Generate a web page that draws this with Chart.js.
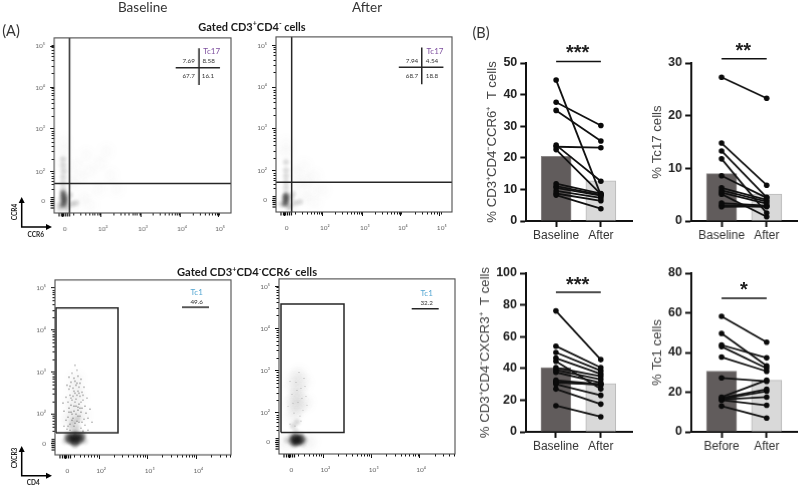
<!DOCTYPE html>
<html><head><meta charset="utf-8">
<style>
html,body{margin:0;padding:0;background:#fff;width:800px;height:488px;overflow:hidden}
#page{position:absolute;left:0;top:0;width:800px;height:488px;filter:blur(.35px)}
canvas{position:absolute}
.t{position:absolute;transform:translate(-50%,-50%);white-space:nowrap;font-family:Lato,sans-serif;color:#333;line-height:1}
sup{font-size:.65em;line-height:0}
svg{position:absolute;left:0;top:0}
</style></head><body><div id="page">
<svg width="800" height="488"><g stroke="#000" stroke-width="1.5" fill="none">
<path d="M21.7 200V227H48"/><path d="M21.7 449V475.7H48"/></g>
<g fill="#000"><path d="M21.7 197l-3 6h6z"/><path d="M52 227l-6-3v6z"/><path d="M21.7 446l-3 6h6z"/><path d="M52 475.7l-6-3v6z"/></g></svg>
<script src="https://cdn.jsdelivr.net/npm/chart.js@4"></script>
<script>
/* ---------- bar panels: values ---------- */
const ccr6Categories=['Baseline','After'];
const ccr6Baseline=[44.6,37.6,35,24,23.5,22.6,11.8,11,10.5,9.5,8.7,8.2];
const ccr6After=[8.2,30.2,25.3,12.6,23.2,8.5,8.7,8.3,8,7.3,6.4,3.9];
const ccr6Bars=[20.5,12.7];
const tc17Categories=['Baseline','After'];
const tc17Baseline=[27.3,14.8,13.3,11.8,8.6,6.3,5.8,5.4,5.1,3.4,3,2.7];
const tc17After=[23.3,6.8,4.5,1.5,4.4,4,3.7,3.3,.8,2.9,2.7,2.8];
const tc17Bars=[9,5.1];
const cxcr3Categories=['Baseline','After'];
const cxcr3Baseline=[76.2,54,50,46.5,44.5,40.5,39,37.5,32.5,31.5,31,30,27,16.5];
const cxcr3After=[45.5,40.5,38.5,36.5,27,35,33,31,30,29.5,30,23,17.5,9.5];
const cxcr3Bars=[40.5,30.3];
const tc1Categories=['Before','After'];
const tc1Baseline=[58.2,49.6,43.8,43,37.7,27.2,17.5,17,16.5,16.3,16,13];
const tc1After=[45.2,33.3,37.3,32,30.5,25.5,26,21.5,20.5,17.5,13.4,7];
const tc1Bars=[30.6,26];

/* ---------- flow plots: values in cytometer channel units ---------- */
const decadeLabels=['0','10²','10³','10⁴','10⁵'];
const zeroCluster=[5,7.5,9.5,11.5,13.5,15.5];
const p1TicksX=[8.7,46.7,86.7,125.7,163.7], p1TicksY=[11.7,41.7,84.7,125.7,167.7];
const p2TicksX=[8.7,47,87,125,164], p2TicksY=[11.7,41.3,84.3,125.3,167.3];
const p3TicksX=[10.4,44,92.7,141.4], p3TicksY=[11.7,41,83.3,125.7,167.7];
const p4TicksX=[10.4,44.4,92.7,140], p4TicksY=[11.7,41.3,84,125.7,168];

const p1Gates=[[[15.4,0],[15.4,176]],[[0,29.7],[176.7,29.7]],[[144.7,128.7],[144.7,165.7]],[[121.4,146],[165.7,146]]];
const p2Gates=[[[15.7,0],[15.7,176]],[[0,30],[176.3,30]],[[146,128.3],[146,165.3]],[[123,145.6],[167.7,145.6]]];
const p3Gates=[[[1,22.3],[63,22.3],[63,147.7],[1,147.7],[1,22.3]],[[127,148.3],[154,148.3]]];
const p4Gates=[[[2,21.7],[65,21.7],[65,150.7],[2,150.7],[2,21.7]],[[132.7,146],[159.7,146]]];

const p1Dark=[[9,8],[10,11],[10,14],[9.5,17],[9,20]];
const p1Mid=[[9,24],[9,30],[9,36],[9.5,42],[9,48],[9,54],[5,8],[14,8],[18,9],[13,14],[22,10],[16,18],[7,14],[12,4],[6,4]];
const p1Faint=[[10,62],[9,72],[18,30],[26,36],[36,42],[46,50],[22,48],[32,58],[52,62],[56,38],[44,24],[30,16],[62,24],[36,8],[20,8],[12,40],[8,50]];
const p2Dark=[[9,8],[10,11],[10,14],[10,17]];
const p2Mid=[[10,24],[10,30],[10,36],[10,42],[10,50],[5,8],[14,7],[19,9],[15,14],[24,10],[17,18],[8,14],[13,4]];
const p2Faint=[[10,60],[10,68],[22,28],[30,32],[38,36],[28,14],[38,10],[46,22],[20,40],[34,22],[16,6],[28,46]];
const p3Dark=[[16,15],[20,16],[24,15],[18,19],[22,19],[14,17],[26,18],[20,13]];
const p3Mid=[[10,14],[30,14],[12,20],[28,20],[20,24],[16,28],[22,28],[20,10],[18,33],[23,36]];
const p3Faint=[[20,44],[17,52],[24,58],[20,66],[14,36],[27,40],[21,76],[18,36]];
const p3Speckle=[[12,26],[15,31],[26,27],[30,30],[9,29],[33,25],[18,37],[13,38],[25,39],[29,36],[21,41],[16,43],[11,35],[31,42],[23,45],[27,47],[14,47],[19,49],[24,51],[9,44],[33,37],[17,55],[21,56],[28,55],[13,53],[25,59],[15,60],[20,62],[30,49],[11,58],[23,64],[18,67],[27,63],[14,66],[32,57],[21,70],[25,72],[16,73],[19,77],[23,79],[12,70],[29,68],[17,82],[22,85],[26,76],[20,90],[35,46],[8,52],[37,33],[24,33],[19,29],[22,34],[15,25],[28,24],[17,41],[26,43],[20,53],[23,48],[18,59],[22,60],[16,50],[24,68],[20,74],[14,78],[28,60],[13,29],[20,32],[27,33],[17,35],[23,39],[14,43],[19,44],[25,47],[21,49],[16,57],[26,53],[19,64],[22,72],[15,69],[24,62]];
const p4Dark=[[14,13],[17,15],[20,14],[18,12],[16,16],[22,15]];
const p4Mid=[[8,14],[26,14],[12,18],[22,19],[17,22],[15,9],[24,10],[14,28],[18,32]];
const p4Faint=[[14,38],[18,46],[16,56],[20,64],[24,72],[14,68],[12,50],[26,52],[20,80],[7,12],[30,12],[18,58],[20,48],[15,76]];
const p4Speckle=[[11,30],[22,33],[15,41],[24,44],[9,48],[19,52],[27,58],[13,60],[22,66],[17,72],[25,76],[11,73],[20,82],[28,49],[16,28],[21,38],[14,51],[23,56],[18,64],[26,68]];

const page=document.getElementById('page');
Chart.defaults.animation=false;
Chart.defaults.devicePixelRatio=1;
function text(html,x,y,size,extra){const d=document.createElement('div');d.className='t';d.innerHTML=html;
  d.style.left=x+'px';d.style.top=y+'px';d.style.fontSize=size+'px';if(extra)Object.assign(d.style,extra);page.appendChild(d);}
function cv(l,t,w,h){const c=document.createElement('canvas');c.width=w;c.height=h;c.style.left=l+'px';c.style.top=t+'px';c.style.width=w+'px';c.style.height=h+'px';page.appendChild(c);return c;}

const blurPlugin={id:'blurLayer',
 beforeDatasetDraw(ch,a){const d=ch.data.datasets[a.index];if(d.blurPx){ch.ctx.save();ch.ctx.filter='blur('+d.blurPx+'px)';}},
 afterDatasetDraw(ch,a){const d=ch.data.datasets[a.index];if(d.blurPx){ch.ctx.restore();}}};
function minorList(major,maxCh){const out=[];const logs=[.301,.477,.602,.699,.778,.845,.903,.954];
  const step=major[2]-major[1];
  for(let m=major[1]-step;m<maxCh;m+=step){logs.forEach(l=>{const v=m+step*l;if(v>major[0]+8&&v<maxCh)out.push(v);});}
  return out;}
const framePlugin={id:'flowFrame',afterDatasetsDraw(ch){const o=ch.options.plugins.flowFrame;if(!o)return;
  const c=ch.ctx,a=ch.chartArea,sx=ch.scales.x,sy=ch.scales.y;c.save();
  c.strokeStyle='#111';c.lineWidth=1;
  const tx=minorList(o.ticksX,sx.max),ty=minorList(o.ticksY,sy.max);
  tx.forEach(v=>{const p=Math.round(sx.getPixelForValue(v))+.5;c.beginPath();c.moveTo(p,a.bottom);c.lineTo(p,a.bottom+2.5);c.stroke();});
  ty.forEach(v=>{const p=Math.round(sy.getPixelForValue(v))+.5;c.beginPath();c.moveTo(a.left,p);c.lineTo(a.left-2.5,p);c.stroke();});
  c.lineWidth=1.2;
  zeroCluster.forEach(v=>{let p=sx.getPixelForValue(v);c.beginPath();c.moveTo(p,a.bottom);c.lineTo(p,a.bottom+3.5);c.stroke();
    p=sy.getPixelForValue(v);c.beginPath();c.moveTo(a.left,p);c.lineTo(a.left-3.5,p);c.stroke();});
  c.strokeStyle='#4d4d4d';c.lineWidth=1.1;c.strokeRect(a.left,a.top,a.right-a.left,a.bottom-a.top);c.restore();}};

function flow(L,T,W,H,ticksX,ticksY,gates,dark,mid,faint,speckle,darkR,faintAlpha,speckleAlpha){
  const pts=a=>a.map(p=>({x:p[0],y:p[1]}));
  const ds=[];
  gates.forEach(g=>ds.push({type:'scatter',showLine:true,data:pts(g),borderColor:'#262626',borderWidth:1.5,pointRadius:0,order:0,clip:false}));
  if(speckle)ds.push({type:'scatter',data:pts(speckle),pointRadius:.6,pointBorderWidth:0,backgroundColor:'rgba(20,20,20,'+speckleAlpha+')',order:1});
  ds.push({type:'scatter',data:pts(dark),pointRadius:darkR,pointBorderWidth:0,backgroundColor:'rgba(15,15,15,.5)',order:2,blurPx:1.5});
  ds.push({type:'scatter',data:pts(mid),pointRadius:3,pointBorderWidth:0,backgroundColor:'rgba(40,40,40,.16)',order:3,blurPx:1.8});
  ds.push({type:'scatter',data:pts(faint),pointRadius:7,pointBorderWidth:0,backgroundColor:'rgba(60,60,60,'+faintAlpha+')',order:4,blurPx:3.5});
  const axis=(arr,isX)=>({type:'linear',min:0,max:isX?W:H,
    afterBuildTicks:s=>{s.ticks=arr.map(v=>({value:v}));},
    afterFit:s=>{if(isX)s.height=28;else s.width=30;},
    grid:{drawOnChartArea:false,drawTicks:true,tickLength:4,tickColor:'#111',tickWidth:1},
    border:{display:false},
    ticks:{autoSkip:false,maxRotation:0,minRotation:0,padding:isX?8:5,labelOffset:isX?2:0,color:'#666',font:{family:'Lato',size:6.5},
      callback:(v,i)=>decadeLabels[i]}});
  new Chart(cv(L-30,T-8,W+36,H+36),{type:'scatter',data:{datasets:ds},plugins:[blurPlugin,framePlugin],
   options:{responsive:false,layout:{autoPadding:false,padding:{top:8,right:6}},
    plugins:{legend:{display:false},tooltip:{enabled:false},flowFrame:{ticksX,ticksY}},
    scales:{x:axis(ticksX,true),y:axis(ticksY,false)}}});
}
flow(54.3,36.7,176.7,176,p1TicksX,p1TicksY,p1Gates,p1Dark,p1Mid,p1Faint,null,3,.028,0);
flow(276,36.3,176.3,176,p2TicksX,p2TicksY,p2Gates,p2Dark,p2Mid,p2Faint,null,3,.028,0);
flow(55.3,279.3,176,175.7,p3TicksX,p3TicksY,p3Gates,p3Dark,p3Mid,p3Faint,p3Speckle,4.5,.05,.7);
flow(279.3,278,176,176,p4TicksX,p4TicksY,p4Gates,p4Dark,p4Mid,p4Faint,p4Speckle,4.5,.06,.25);

function bars(o){
  const {cats,base,after,barVals,yMax,step,title,titleX,axisL,axisR,top,bottom,sigY}=o;
  const cl=titleX-8,ct=top-24,cw=axisR+3-cl,ch=bottom+36-ct;
  const lines=base.map((b,i)=>({type:'line',data:[{x:1,y:b},{x:2,y:after[i]}],borderColor:'#111',borderWidth:1.8,
     pointRadius:2.8,pointBackgroundColor:'#0a0a0a',pointBorderWidth:0,order:1,clip:false}));
  const sig={type:'line',data:[{x:1,y:sigY},{x:2,y:sigY}],borderColor:'#111',borderWidth:1.5,pointRadius:0,order:0,clip:false};
  const bar={type:'bar',data:[{x:1,y:barVals[0]},{x:2,y:barVals[1]}],barThickness:30,
     backgroundColor:['#615c5c','#d9d9d9'],borderColor:['#8c8888','#b9b9b9'],borderWidth:1,order:2};
  const unit=45;
  new Chart(cv(cl,ct,cw,ch),{type:'bar',data:{datasets:[sig,...lines,bar]},
   options:{responsive:false,layout:{autoPadding:false,padding:{top:24,right:3}},
    plugins:{legend:{display:false},tooltip:{enabled:false}},
    scales:{
     x:{type:'linear',offset:false,min:1-(o.c1-axisL)/unit,max:2+(axisR-o.c2)/unit,
        afterBuildTicks:s=>{s.ticks=[{value:1},{value:2}];},afterFit:s=>{s.height=36;},
        grid:{offset:false,drawOnChartArea:false,tickLength:6,tickWidth:2,tickColor:'#111'},
        border:{color:'#111',width:2},
        ticks:{autoSkip:false,maxRotation:0,padding:1,color:'#333',font:{family:'Liberation Sans',size:12},callback:v=>cats[v-1]}},
     y:{type:'linear',min:0,max:yMax,afterFit:s=>{s.width=axisL-cl;},
        afterBuildTicks:s=>{const t=[];for(let v=0;v<=yMax;v+=step)t.push({value:v});s.ticks=t;},
        grid:{drawOnChartArea:false,tickLength:6,tickWidth:2,tickColor:'#111'},
        border:{color:'#111',width:2},
        title:{display:true,text:title,color:'#444',padding:0,font:{family:'Liberation Sans',size:13.2}},
        ticks:{autoSkip:false,padding:3,color:'#222',font:{family:'Liberation Sans',size:12.5,weight:'bold'}}}
    }}});
}
bars({cats:ccr6Categories,base:ccr6Baseline,after:ccr6After,barVals:ccr6Bars,yMax:50,step:10,title:'% CD3⁺CD4⁻CCR6⁺  T cells',titleX:491.7,axisL:526,axisR:632.3,top:62.7,bottom:221.3,sigY:50.5,c1:556,c2:601});
bars({cats:tc17Categories,base:tc17Baseline,after:tc17After,barVals:tc17Bars,yMax:30,step:10,title:'% Tc17 cells',titleX:657.3,axisL:691.3,axisR:797,top:62.7,bottom:221.3,sigY:30.8,c1:721.5,c2:766.7});
bars({cats:cxcr3Categories,base:cxcr3Baseline,after:cxcr3After,barVals:cxcr3Bars,yMax:100,step:20,title:'% CD3⁺CD4⁻CXCR3⁺  T cells',titleX:485,axisL:526,axisR:632.3,top:273.3,bottom:432,sigY:88,c1:556,c2:601});
bars({cats:tc1Categories,base:tc1Baseline,after:tc1After,barVals:tc1Bars,yMax:80,step:20,title:'% Tc1 cells',titleX:657.3,axisL:691.3,axisR:797,top:273.3,bottom:432,sigY:67.4,c1:721.5,c2:766.7});

/* headings and gate labels */
const B={fontWeight:'bold',color:'#1a1a1a'};
text('Baseline',142.7,8.3,13.5);
text('After',367,8.3,13.5);
text('(A)',11,31,14.5);
text('(B)',481,33,14.5);
text('Gated CD3<sup>+</sup>CD4<sup>-</sup> cells',252,25.5,11,B);
text('Gated CD3<sup>+</sup>CD4<sup>-</sup>CCR6<sup>-</sup> cells',247,271.5,11.2,B);
const purple={color:'#7d4e9e'},blue={color:'#55a7d2'};
text('Tc17',211.7,51,8,purple);text('7.69',188.7,61,6.3);text('8.58',208.7,61,6.3);text('67.7',188.7,75.7,6.3);text('16.1',208,75.7,6.3);
text('Tc17',435,51,8,purple);text('7.94',412,61,6.3);text('4.54',432,61,6.3);text('68.7',412,75.7,6.3);text('18.8',432,75.7,6.3);
text('Tc1',196.7,292,8,blue);text('49.6',196.7,302,6.3);
text('Tc1',426.7,293,8,blue);text('32.2',426.7,303.3,6.3);
const A={fontWeight:'bold',color:'#222'};
text('CCR4',15.3,212.3,6.5,{...A,transform:'translate(-50%,-50%) rotate(-90deg)'});
text('CCR6',35.7,235,6.5,A);
text('CXCR3',15.3,458.3,6.5,{...A,transform:'translate(-50%,-50%) rotate(-90deg)'});
text('CD4',33.3,482.7,6.5,A);
const S={fontFamily:'Liberation Sans',fontWeight:'bold',color:'#222'};
text('***',577.7,52,20,S);text('**',743.3,50,20,S);text('***',577.7,284,20,S);text('*',744,289,20,S);
</script></div></body></html>
